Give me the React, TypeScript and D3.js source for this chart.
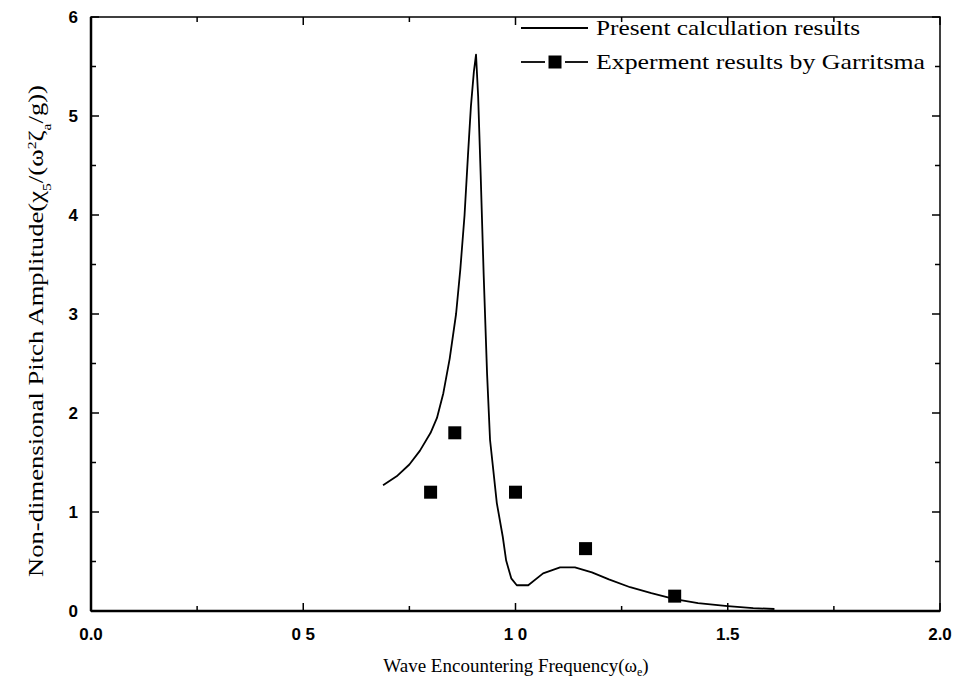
import React from "react";
import * as d3 from "d3";

const calcX = [0.688, 0.72, 0.75, 0.775, 0.8, 0.815, 0.83, 0.845, 0.86, 0.87, 0.88, 0.888, 0.895, 0.902, 0.907, 0.912, 0.918, 0.925, 0.933, 0.94, 0.947, 0.956, 0.97, 0.978, 0.99, 1.003, 1.03, 1.065, 1.105, 1.14, 1.18, 1.22, 1.27, 1.32, 1.375, 1.43, 1.5, 1.56, 1.61];
const calcY = [1.27, 1.36, 1.48, 1.62, 1.8, 1.95, 2.2, 2.55, 3.0, 3.45, 4.0, 4.6, 5.1, 5.45, 5.62, 5.2, 4.4, 3.4, 2.4, 1.73, 1.45, 1.09, 0.75, 0.51, 0.33, 0.26, 0.26, 0.38, 0.44, 0.44, 0.39, 0.32, 0.24, 0.18, 0.12, 0.08, 0.05, 0.03, 0.02];
const expX = [0.8, 0.857, 1.0, 1.165, 1.375];
const expY = [1.2, 1.8, 1.2, 0.63, 0.15];
const xTicks = [0, 0.5, 1.0, 1.5, 2.0];
const xTickLabels = ["0.0", "0 5", "1 0", "1.5", "2.0"];
const yTicks = [0, 1, 2, 3, 4, 5, 6];
const legendLabels = ["Present calculation results", "Experment results by Garritsma"];

export default function App() {
  const W = 960, H = 688;
  const L = 91, R = 940, T = 17, B = 611;
  const x = d3.scaleLinear().domain([0, 2]).range([L, R]);
  const y = d3.scaleLinear().domain([0, 6]).range([B, T]);
  const line = d3.line<number>().x((_, i) => x(calcX[i])).y((d) => y(d));
  const xMinor = d3.range(0.25, 2, 0.5);
  const yMinor = d3.range(0.5, 6, 1);
  const sq = 13;
  const serif = "Liberation Serif, Times New Roman, serif";
  const sans = "Liberation Sans, Arial, sans-serif";
  return (
    <svg width={W} height={H} style={{ position: "absolute", left: 0, top: 0, background: "#fff" }}>
      <rect x={0} y={0} width={W} height={H} fill="#fff" />
      <rect x={L} y={T} width={R - L} height={B - T} fill="none" stroke="#000" strokeWidth={1.5} />
      <line x1={L} x2={R} y1={B} y2={B} stroke="#000" strokeWidth={2.5} />
      <line x1={L} x2={L} y1={T} y2={B} stroke="#000" strokeWidth={2.5} />
      {xTicks.map((t) => (
        <g key={"xt" + t}>
          <line x1={x(t)} x2={x(t)} y1={B} y2={B - 8} stroke="#000" strokeWidth={1.5} />
          <line x1={x(t)} x2={x(t)} y1={T} y2={T + 8} stroke="#000" strokeWidth={1.5} />
        </g>
      ))}
      {xMinor.map((t) => (
        <g key={"xm" + t}>
          <line x1={x(t)} x2={x(t)} y1={B} y2={B - 5} stroke="#000" strokeWidth={1.5} />
          <line x1={x(t)} x2={x(t)} y1={T} y2={T + 5} stroke="#000" strokeWidth={1.5} />
        </g>
      ))}
      {yTicks.map((t) => (
        <g key={"yt" + t}>
          <line x1={L} x2={L + 8} y1={y(t)} y2={y(t)} stroke="#000" strokeWidth={1.5} />
          <line x1={R} x2={R - 8} y1={y(t)} y2={y(t)} stroke="#000" strokeWidth={1.5} />
          <text x={L - 13} y={y(t) + 6} textAnchor="end" fontFamily={sans} fontWeight="bold" fontSize={17}>{t}</text>
        </g>
      ))}
      {yMinor.map((t) => (
        <g key={"ym" + t}>
          <line x1={L} x2={L + 5} y1={y(t)} y2={y(t)} stroke="#000" strokeWidth={1.5} />
          <line x1={R} x2={R - 5} y1={y(t)} y2={y(t)} stroke="#000" strokeWidth={1.5} />
        </g>
      ))}
      {xTicks.map((t, i) => (
        <text key={"xl" + t} x={x(t)} y={640} textAnchor="middle" fontFamily={sans} fontWeight="bold" fontSize={17}>{xTickLabels[i]}</text>
      ))}
      <path d={line(calcY) || ""} fill="none" stroke="#000" strokeWidth={1.8} strokeLinejoin="round" />
      {expX.map((v, i) => (
        <rect key={"e" + i} x={x(v) - sq / 2} y={y(expY[i]) - sq / 2} width={sq} height={sq} fill="#000" />
      ))}
      <g fontFamily={serif} fontSize={22}>
        <line x1={521} x2={588} y1={28} y2={28} stroke="#000" strokeWidth={1.8} />
        <text x={596} y={35} textLength={264} lengthAdjust="spacingAndGlyphs">{legendLabels[0]}</text>
        <line x1={521} x2={545} y1={62} y2={62} stroke="#000" strokeWidth={1.8} />
        <line x1={565} x2={588} y1={62} y2={62} stroke="#000" strokeWidth={1.8} />
        <rect x={555 - sq / 2} y={62 - sq / 2} width={sq} height={sq} fill="#000" />
        <text x={596} y={69} textLength={329} lengthAdjust="spacingAndGlyphs">{legendLabels[1]}</text>
      </g>
      <text x={516} y={672} textAnchor="middle" fontFamily={serif} fontSize={19}>
        Wave Encountering Frequency(ω<tspan dy={4} fontSize={12}>e</tspan><tspan dy={-4}>)</tspan>
      </text>
      <text transform={`translate(43, 577) rotate(-90)`} fontFamily={serif} fontSize={22} textLength={492} lengthAdjust="spacingAndGlyphs">
        Non-dimensional Pitch Amplitude(χ<tspan baselineShift="sub" fontSize={13}>5</tspan>/(ω<tspan baselineShift="super" fontSize={13}>2</tspan>ζ<tspan baselineShift="sub" fontSize={13}>a</tspan>/g))
      </text>
    </svg>
  );
}
